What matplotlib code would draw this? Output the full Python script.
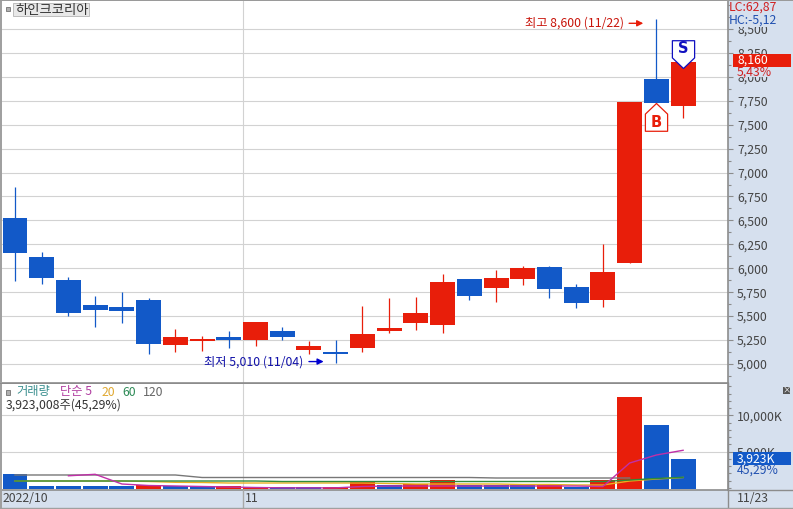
import matplotlib
matplotlib.use("Agg")
import matplotlib.pyplot as plt
from matplotlib.patches import Rectangle
from matplotlib.path import Path
from matplotlib.ticker import MultipleLocator, FuncFormatter
from matplotlib.transforms import blended_transform_factory

plt.rcParams['font.family'] = ['Noto Sans CJK KR', 'DejaVu Sans']

# 일봉 데이터
opens  = [6530, 6120, 5880, 5620, 5600, 5670, 5200, 5240, 5280, 5250, 5340, 5150, 5130,
          5170, 5340, 5430, 5410, 5890, 5790, 5890, 6010, 5800, 5670, 6050, 7980, 7700]
closes = [6160, 5900, 5530, 5560, 5550, 5210, 5280, 5260, 5250, 5440, 5280, 5190, 5100,
          5310, 5380, 5530, 5860, 5710, 5900, 6000, 5780, 5640, 5960, 7740, 7730, 8160]
highs  = [6850, 6170, 5910, 5710, 5750, 5690, 5370, 5290, 5340, 5440, 5390, 5240, 5250,
          5610, 5690, 5700, 5940, 5890, 5980, 6020, 6020, 5840, 6250, 7740, 8600, 8160]
lows   = [5870, 5840, 5500, 5390, 5430, 5100, 5130, 5140, 5170, 5190, 5250, 5100, 5010,
          5120, 5320, 5360, 5320, 5670, 5650, 5820, 5690, 5580, 5600, 6050, 7730, 7570]

# 거래량 (천주)
volumes = [1930, 275, 275, 275, 275, 410, 275, 275, 275, 140, 70, 70, 70,
           870, 410, 550, 1100, 410, 410, 410, 380, 180, 1060, 12520, 8670, 3923]
vol_up  = [0, 0, 0, 0, 0, 1, 0, 0, 1, 1, 0, 0, 1,
           1, 0, 1, 1, 0, 0, 0, 1, 0, 1, 1, 0, 0]

ma5   = [None, None, 1680, 1885, 550, 344, 275, 206, 138, 69, 20, 20, 20,
         206, 275, 275, 275, 275, 275, 275, 275, 275, 206, 3440, 4540, 5190]
ma20  = [963, 963, 963, 963, 963, 894, 784, 757, 688, 688, 688, 688, 688,
         688, 619, 550, 550, 550, 550, 482, 482, 413, 413, 963, 1238, 1445]
ma60  = [963, 963, 963, 963, 963, 963, 963, 963, 963, 963, 894, 894, 894,
         894, 894, 894, 894, 894, 894, 894, 894, 894, 894, 1100, 1307, 1472]
ma120 = [1790, 1790, 1790, 1790, 1790, 1790, 1790, 1445, 1445, 1445, 1445, 1445, 1445,
         1445, 1445, 1445, 1445, 1445, 1376, 1376, 1376, 1376, 1376, 1376]

price_ticks = [5000, 5250, 5500, 5750, 6000, 6250, 6500, 6750, 7000, 7250, 7500, 7750, 8000, 8250, 8500]
vol_ticks = [5000, 10000]
month_start = 8.53
buy_idx, buy_price = 24, 7730
sell_idx, sell_price = 25, 8090

RED = '#E81E0A'
BLUE = '#1259C8'
GRID = '#D2D2D2'
EDGE = '#8C8C8C'
PANEL = '#D6E0EE'
TEXT = '#444444'
W, H = 793, 509
FS = 8.8


def pane(x0, y0, x1, y1):
    # 픽셀 좌표로 축 만들기
    return fig.add_axes([x0 / W, 1 - y1 / H, (x1 - x0) / W, (y1 - y0) / H])


def house(flip):
    s = -1 if flip else 1
    verts = [(0, 0), (11 * s, -10.5 * s), (11 * s, -27.5 * s), (-11 * s, -27.5 * s), (-11 * s, -10.5 * s), (0, 0)]
    return Path(verts, closed=True)


fig = plt.figure(figsize=(W / 100, H / 100), dpi=100, facecolor=PANEL)
ax = pane(2, 1, 728, 383)
ax2 = pane(2, 384, 728, 490)
xs = list(range(len(closes)))

for a in (ax, ax2):
    a.set_xlim(-0.4865, 26.68)
    a.set_xticks([])
    a.set_axisbelow(True)
    a.yaxis.tick_right()
    a.grid(True, axis='y', color=GRID, lw=0.8)
    a.axvline(month_start, color=GRID, lw=0.8, zorder=1)
    for name, sp in a.spines.items():
        sp.set_color(EDGE)
        sp.set_linewidth(1.2)
        sp.set_visible(name in ('right', 'bottom'))
    a.tick_params(axis='y', which='major', length=3.6, width=0.8, color=EDGE, labelcolor=TEXT,
                  labelsize=FS, pad=3)
    a.tick_params(axis='y', which='minor', length=2, width=0.8, color=EDGE)

# 가격 차트
ax.set_ylim(4801, 8793)
ax.set_yticks(price_ticks)
ax.yaxis.set_minor_locator(MultipleLocator(125))
ax.yaxis.set_major_formatter(FuncFormatter(lambda v, p: f'{v:,.0f}'))
colors = [RED if c >= o else BLUE for o, c in zip(opens, closes)]
ax.vlines(xs, lows, highs, colors=colors, lw=0.9, zorder=2)
ax.bar(xs, [abs(c - o) for o, c in zip(opens, closes)], bottom=[min(o, c) for o, c in zip(opens, closes)],
       width=0.935, color=colors, zorder=3)

# 최고 / 최저 표시
hi = max(highs)
hi_i = highs.index(hi)
lo = min(lows)
lo_i = lows.index(lo)
ax.annotate('', xy=(hi_i - 0.49, hi - 40), xytext=(hi_i - 1.02, hi - 40),
            arrowprops=dict(arrowstyle='-|>', color=RED, lw=1, shrinkA=0, shrinkB=0, mutation_scale=9), zorder=6)
ax.text(hi_i - 1.22, hi - 40, f'최고 {hi:,} (11/22)', color='#C8140A', fontsize=FS, ha='right', va='center')
ax.annotate('', xy=(lo_i - 0.45, lo + 15), xytext=(lo_i - 1.0, lo + 15),
            arrowprops=dict(arrowstyle='-|>', color='#0000D0', lw=1, shrinkA=0, shrinkB=0, mutation_scale=9), zorder=6)
ax.text(lo_i - 1.2, lo + 15, f'최저 {lo:,} (11/04)', color='#1010A8', fontsize=FS, ha='right', va='center')

# 매수 / 매도 신호
ax.plot([buy_idx], [buy_price], marker=house(False), ms=40, mfc='white', mec=RED, mew=0.9, ls='none', zorder=5)
ax.annotate('B', xy=(buy_idx, buy_price), xytext=(0, -14.5), textcoords='offset points', color=RED,
            family='DejaVu Sans', fontsize=10.5, fontweight='bold', ha='center', va='center', zorder=6)
ax.plot([sell_idx], [sell_price], marker=house(True), ms=40, mfc='white', mec='#1010C0', mew=0.9, ls='none', zorder=5)
ax.annotate('S', xy=(sell_idx, sell_price), xytext=(0, 14.5), textcoords='offset points', color='#1010C0',
            family='DejaVu Sans', fontsize=10.5, fontweight='bold', ha='center', va='center', zorder=6)

# 거래량 차트
ax2.set_ylim(-275, 14310)
ax2.set_yticks(vol_ticks)
ax2.yaxis.set_minor_locator(MultipleLocator(1000))
ax2.yaxis.set_major_formatter(FuncFormatter(lambda v, p: f'{v:,.0f}K'))
ax2.bar(xs, [v + 137 for v in volumes], bottom=-137, width=0.935,
        color=[RED if u else BLUE for u in vol_up], zorder=2)
ax2.plot(xs[:len(ma120)], ma120, color='#777777', lw=1, zorder=3)
ax2.plot(xs, ma20, color='#E8B020', lw=1, zorder=3)
ax2.plot(xs, ma60, color='#2E8B3A', lw=1, zorder=3)
ax2.plot(xs, ma5, color='#C030A8', lw=1, zorder=4)

# 픽셀 좌표 오버레이 (제목, 범례, 날짜)
ov = fig.add_axes([0, 0, 1, 1], facecolor='none')
ov.set_xlim(0, W)
ov.set_ylim(H, 0)
ov.axis('off')
ov.add_patch(Rectangle((0, 0), 2, H, color='#A0A0A0', lw=0))
ov.add_patch(Rectangle((0, 0), W, 1, color='#9A9A9A', lw=0))
ov.add_patch(Rectangle((0, 383), 728, 1.2, color=EDGE, lw=0))
ov.add_patch(Rectangle((5.5, 6.5), 4.5, 4.5, fc='#B0B0B0', ec='#808080', lw=0.7))
ov.add_patch(Rectangle((5.5, 390), 4.5, 4.5, fc='#B0B0B0', ec='#808080', lw=0.7))
ov.add_patch(Rectangle((13, 2.5), 76, 13.5, fc='#E8E8E8', ec='#BDBDBD', lw=0.7))
ov.text(15, 9.5, '하인크코리아', color='#333333', fontsize=9.6, va='center')

ov.plot([243, 243], [490, H], color='#A8A8A8', lw=1)
ov.plot([728, 728], [383, H], color=EDGE, lw=1)
ov.plot([0, W], [507.8, 507.8], color='#A0A0A0', lw=1)
ov.plot([728, W], [490, 490], color=EDGE, lw=1)
ov.text(3, 498.5, '2022/10', color=TEXT, fontsize=FS, va='center')
ov.text(245, 498.5, '11', color=TEXT, fontsize=FS, va='center')
ov.text(737, 498.5, '11/23', color=TEXT, fontsize=FS, va='center')

ov.text(16, 392, '거래량', color='#3A8F8F', fontsize=FS, va='center')
ov.text(60, 392, '단순 5', color='#B03CA0', fontsize=FS, va='center')
ov.text(102, 392, '20', color='#E0A830', fontsize=FS, va='center')
ov.text(122, 392, '60', color='#2E8B57', fontsize=FS, va='center')
ov.text(143, 392, '120', color='#666666', fontsize=FS, va='center')
ov.text(6, 405, '3,923,008주(45,29%)', color='#333333', fontsize=FS, va='center')

# 축 눈금 글자를 일부 가리는 배경
ov.add_patch(Rectangle((730, 1), 52, 26, fc=PANEL, lw=0, zorder=2))
ov.add_patch(Rectangle((734, 66), 42, 11, fc=PANEL, lw=0, zorder=2))
ov.add_patch(Rectangle((734, 464), 48, 12, fc=PANEL, lw=0, zorder=2))
ov.text(729, 7.5, 'LC:62,87', color='#D02020', fontsize=FS, va='center', zorder=3)
ov.text(729, 20, 'HC:-5,12', color='#2050B0', fontsize=FS, va='center', zorder=3)
ov.text(737, 72.5, '5,43%', color='#D02020', fontsize=FS, va='center', zorder=3)
ov.text(737, 470.5, '45,29%', color='#2050B0', fontsize=FS, va='center', zorder=3)

# 현재가 / 거래량 박스
tr = blended_transform_factory(ov.transData, ax.transData)
ov.add_patch(Rectangle((733, closes[-1] - 53), 58, 133, transform=tr, fc=RED, lw=0, zorder=5))
ov.text(737, closes[-1] + 12, f'{closes[-1]:,}', transform=tr, color='white', fontsize=FS, va='center', zorder=6)
tr2 = blended_transform_factory(ov.transData, ax2.transData)
ov.add_patch(Rectangle((733, volumes[-1] - 800), 58, 1790, transform=tr2, fc=BLUE, lw=0, zorder=5))
ov.text(737, volumes[-1] + 100, f'{volumes[-1]:,}K', transform=tr2, color='white', fontsize=FS, va='center', zorder=6)

ov.add_patch(Rectangle((783, 387), 7, 6.5, fc='#555555', lw=0))
ov.text(786.5, 390, '×', color='white', fontsize=6, ha='center', va='center')

fig.savefig('out.png', dpi=100, facecolor=fig.get_facecolor())
